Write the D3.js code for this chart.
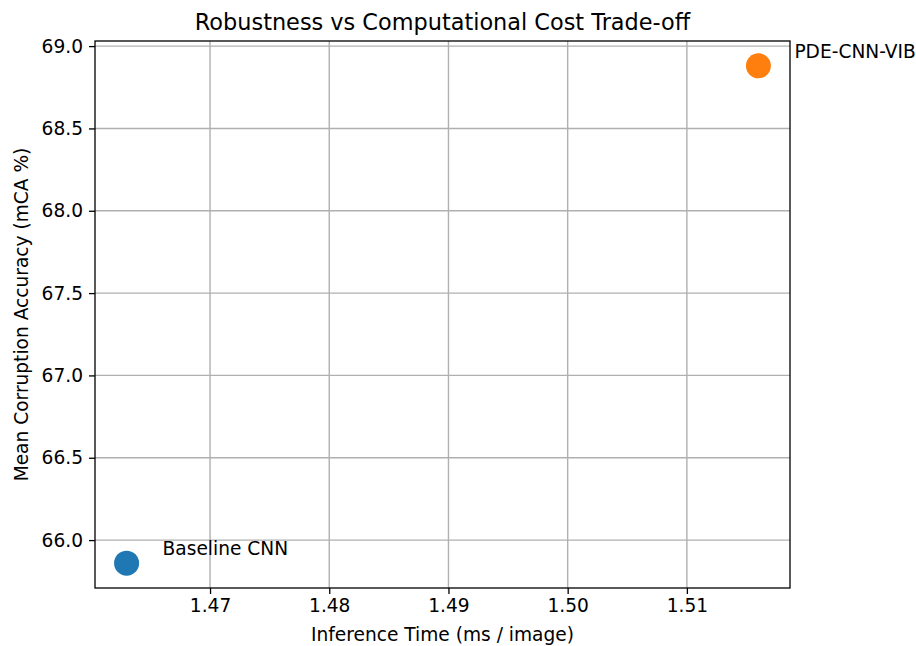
<!DOCTYPE html>
<html>
<head>
<meta charset="utf-8">
<script src="https://cdn.jsdelivr.net/npm/d3@7"></script>
<style>
  body { margin: 0; background: #fff; }
  text { font-family: "DejaVu Sans", sans-serif; fill: #000; }
</style>
</head>
<body>
<div id="chart"></div>
<script>
// data
const models = ['Baseline CNN', 'PDE-CNN-VIB'];
const inferenceTime = [1.4630, 1.5160];
const meanCorruptionAcc = [65.86, 68.88];
const colors = ['#1f77b4', '#ff7f0e'];
const xTicks = [1.47, 1.48, 1.49, 1.50, 1.51];
const yTicks = [66.0, 66.5, 67.0, 67.5, 68.0, 68.5, 69.0];

const width = 916;
const height = 646;
const marginLeft = 95;
const marginRight = 126;
const marginTop = 41;
const marginBottom = 58;
const fontSize = '18.6px';

const svg = d3.select('#chart')
    .append('svg')
    .attr('width', width)
    .attr('height', height)
    .attr('viewBox', [0, 0, width, height]);

// matplotlib-like 5% padding
const xExt = d3.extent(inferenceTime);
const yExt = d3.extent(meanCorruptionAcc);
const xPad = (xExt[1] - xExt[0]) * 0.05;
const yPad = (yExt[1] - yExt[0]) * 0.05;

const xScale = d3.scaleLinear([xExt[0] - xPad, xExt[1] + xPad], [marginLeft, width - marginRight]);
const yScale = d3.scaleLinear([yExt[0] - yPad, yExt[1] + yPad], [height - marginBottom, marginTop]);

// GRID
svg.append('g')
    .attr('stroke', '#b0b0b0')
    .attr('stroke-width', 1.4)
    .call((g) => g.selectAll('line.gx')
        .data(xTicks)
        .join('line')
        .attr('x1', (d) => xScale(d))
        .attr('x2', (d) => xScale(d))
        .attr('y1', marginTop)
        .attr('y2', height - marginBottom))
    .call((g) => g.selectAll('line.gy')
        .data(yTicks)
        .join('line')
        .attr('class', 'gy')
        .attr('x1', marginLeft)
        .attr('x2', width - marginRight)
        .attr('y1', (d) => yScale(d))
        .attr('y2', (d) => yScale(d)));

// AXES
const xAxis = d3.axisBottom(xScale).tickValues(xTicks).tickFormat(d3.format('.2f')).tickSize(6).tickPadding(5);
const yAxis = d3.axisLeft(yScale).tickValues(yTicks).tickFormat(d3.format('.1f')).tickSize(6).tickPadding(6);

svg.append('g')
    .attr('transform', `translate(0,${height - marginBottom})`)
    .call(xAxis)
    .call((g) => g.select('.domain').remove())
    .call((g) => g.selectAll('.tick line').attr('stroke-width', 1.3))
    .call((g) => g.selectAll('.tick text').attr('font-size', fontSize).attr('font-family', 'DejaVu Sans'));

svg.append('g')
    .attr('transform', `translate(${marginLeft},0)`)
    .call(yAxis)
    .call((g) => g.select('.domain').remove())
    .call((g) => g.selectAll('.tick line').attr('stroke-width', 1.3))
    .call((g) => g.selectAll('.tick text').attr('font-size', fontSize).attr('font-family', 'DejaVu Sans'));

// SPINES
svg.append('rect')
    .attr('x', marginLeft)
    .attr('y', marginTop)
    .attr('width', width - marginLeft - marginRight)
    .attr('height', height - marginTop - marginBottom)
    .attr('fill', 'none')
    .attr('stroke', '#000')
    .attr('stroke-width', 1.3);

// POINTS
svg.append('g')
    .selectAll('circle')
    .data(models)
    .join('circle')
    .attr('cx', (d, i) => xScale(inferenceTime[i]))
    .attr('cy', (d, i) => yScale(meanCorruptionAcc[i]))
    .attr('r', 12.5)
    .attr('fill', (d, i) => colors[i]);

// POINT LABELS
svg.append('g')
    .selectAll('text')
    .data(models)
    .join('text')
    .attr('x', (d, i) => xScale(inferenceTime[i]) + 36)
    .attr('y', (d, i) => yScale(meanCorruptionAcc[i]) - 8)
    .attr('font-size', fontSize)
    .text((d) => d);

// TITLES
svg.append('text')
    .attr('x', (marginLeft + width - marginRight) / 2)
    .attr('y', 30)
    .attr('text-anchor', 'middle')
    .attr('font-size', '22.4px')
    .text('Robustness vs Computational Cost Trade-off');

svg.append('text')
    .attr('x', (marginLeft + width - marginRight) / 2)
    .attr('y', 641)
    .attr('text-anchor', 'middle')
    .attr('font-size', fontSize)
    .text('Inference Time (ms / image)');

svg.append('text')
    .attr('transform', `translate(28,${(marginTop + height - marginBottom) / 2}) rotate(-90)`)
    .attr('text-anchor', 'middle')
    .attr('font-size', fontSize)
    .text('Mean Corruption Accuracy (mCA %)');
</script>
</body>
</html>
